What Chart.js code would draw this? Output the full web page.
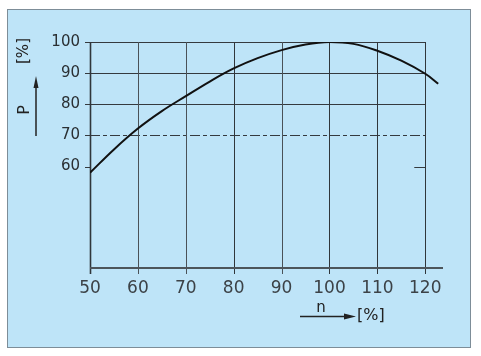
<!DOCTYPE html>
<html>
<head>
<meta charset="utf-8">
<script src="https://cdn.jsdelivr.net/npm/chart.js@4"></script>
<style>
html,body{margin:0;padding:0;background:#fff;}
canvas{display:block;}
</style>
</head>
<body>
<canvas id="c" width="481" height="356"></canvas>
<script>
// Data
const nValues = [50, 55, 60, 65, 70, 75, 80, 85, 90, 95, 100, 105, 110, 115, 120, 122.7];
const pValues = [58.0, 65.5, 72.2, 77.8, 82.6, 87.3, 91.5, 94.8, 97.4, 99.2, 100.0, 99.4, 97.2, 94.0, 89.8, 86.6];
const xTicks = [50, 60, 70, 80, 90, 100, 110, 120];
const yTicks = [60, 70, 80, 90, 100];
const yTitle = 'P';
const xTitle = 'n';
const unitLabel = '[%]';

const points = nValues.map((n, i) => ({x: n, y: pValues[i]}));

const framePlugin = {
  id: 'frame',
  beforeDraw(chart) {
    const ctx = chart.ctx;
    ctx.save();
    ctx.fillStyle = '#ffffff';
    ctx.fillRect(0, 0, chart.width, chart.height);
    ctx.fillStyle = '#bee4f8';
    ctx.fillRect(7.5, 9.5, 463, 338);
    ctx.strokeStyle = '#7d8d98';
    ctx.lineWidth = 1;
    ctx.strokeRect(7.5, 9.5, 463, 338);
    ctx.restore();
  }
};

const gridPlugin = {
  id: 'paperGrid',
  beforeDatasetsDraw(chart) {
    const ctx = chart.ctx;
    const xs = chart.scales.x, ys = chart.scales.y;
    const x0 = xs.getPixelForValue(xTicks[0]);
    const xEnd = xs.getPixelForValue(xTicks[xTicks.length - 1]);
    const xAxisEnd = xs.getPixelForValue(xs.max);
    const yBottom = ys.getPixelForValue(ys.min);
    const yTop = ys.getPixelForValue(yTicks[yTicks.length - 1]);
    ctx.save();
    // horizontal grid lines
    yTicks.forEach(v => {
      const y = Math.round(ys.getPixelForValue(v)) + 0.5;
      ctx.strokeStyle = '#353a3f';
      ctx.lineWidth = 1;
      ctx.setLineDash(v === 70 ? [10, 3, 4, 3] : []);
      ctx.beginPath();
      if (v === 60) {
        ctx.moveTo(xEnd - 11, y); ctx.lineTo(xEnd, y);
      } else {
        ctx.moveTo(x0, y); ctx.lineTo(xEnd, y);
      }
      ctx.stroke();
      // left tick
      ctx.setLineDash([]);
      ctx.beginPath();
      ctx.moveTo(x0 - 5, y); ctx.lineTo(x0, y);
      ctx.stroke();
    });
    ctx.setLineDash([]);
    // vertical grid lines
    xTicks.forEach(v => {
      const x = Math.round(xs.getPixelForValue(v)) + 0.5;
      ctx.strokeStyle = (v === 60 || v === 70 || v === 90) ? '#4a5258' : '#30363b';
      ctx.lineWidth = v === 50 ? 1.6 : 1;
      ctx.beginPath();
      ctx.moveTo(x, yTop); ctx.lineTo(x, yBottom + 6);
      ctx.stroke();
    });
    // bottom axis
    ctx.strokeStyle = '#4d555b';
    ctx.lineWidth = 2;
    ctx.beginPath();
    ctx.moveTo(x0, Math.round(yBottom)); ctx.lineTo(xAxisEnd, Math.round(yBottom));
    ctx.stroke();
    ctx.restore();
  },
  afterDraw(chart) {
    const ctx = chart.ctx;
    ctx.save();
    ctx.fillStyle = '#222';
    ctx.strokeStyle = '#222';
    // y title (rotated)
    ctx.save();
    ctx.translate(25, 110);
    ctx.rotate(-Math.PI / 2);
    ctx.font = '16px "DejaVu Sans"';
    ctx.textAlign = 'center';
    ctx.textBaseline = 'middle';
    ctx.fillText(yTitle, 0, 0);
    ctx.restore();
    ctx.save();
    ctx.translate(24, 51);
    ctx.rotate(-Math.PI / 2);
    ctx.font = '15px "DejaVu Sans"';
    ctx.textAlign = 'center';
    ctx.textBaseline = 'middle';
    ctx.fillText(unitLabel, 0, 0);
    ctx.restore();
    // y arrow
    ctx.lineWidth = 1.5;
    ctx.beginPath();
    ctx.moveTo(36, 136); ctx.lineTo(36, 84);
    ctx.stroke();
    ctx.beginPath();
    ctx.moveTo(36, 76); ctx.lineTo(38.5, 88); ctx.lineTo(33.5, 88); ctx.closePath();
    ctx.fill();
    // x title
    ctx.font = '15px "DejaVu Sans"';
    ctx.textAlign = 'center';
    ctx.textBaseline = 'alphabetic';
    ctx.fillText(xTitle, 321, 312);
    ctx.beginPath();
    ctx.moveTo(300, 316.5); ctx.lineTo(348, 316.5);
    ctx.stroke();
    ctx.beginPath();
    ctx.moveTo(356, 316.5); ctx.lineTo(344, 313.5); ctx.lineTo(344, 319.5); ctx.closePath();
    ctx.fill();
    ctx.textAlign = 'left';
    ctx.textBaseline = 'middle';
    ctx.font = '16px "DejaVu Sans"';
    ctx.fillText(unitLabel, 357, 316);
    ctx.restore();
  }
};

new Chart(document.getElementById('c'), {
  type: 'scatter',
  data: {
    datasets: [{
      data: points,
      showLine: true,
      borderColor: '#111',
      borderWidth: 2,
      pointRadius: 0,
      tension: 0.4,
      fill: false
    }]
  },
  options: {
    responsive: false,
    animation: false,
    devicePixelRatio: 1,
    layout: {padding: {left: 40, top: 42, right: 38, bottom: 58}},
    plugins: {legend: {display: false}, tooltip: {enabled: false}},
    scales: {
      x: {
        type: 'linear',
        min: 50, max: 123.7,
        afterBuildTicks: s => { s.ticks = xTicks.map(v => ({value: v})); },
        afterFit: s => { s.height = 30; },
        grid: {display: false, drawTicks: false},
        border: {display: false},
        ticks: {
          color: '#3c4247',
          padding: 10,
          font: {family: 'DejaVu Sans', size: 17},
          maxRotation: 0,
          autoSkip: false
        }
      },
      y: {
        type: 'linear',
        min: 27.4, max: 100,
        afterBuildTicks: s => { s.ticks = yTicks.map(v => ({value: v})); },
        afterFit: s => { s.width = 50; },
        grid: {display: false, drawTicks: false},
        border: {display: false},
        ticks: {
          color: '#2a2f33',
          padding: 10,
          font: {family: 'DejaVu Sans', size: 15},
          autoSkip: false
        }
      }
    }
  },
  plugins: [framePlugin, gridPlugin]
});
</script>
</body>
</html>
